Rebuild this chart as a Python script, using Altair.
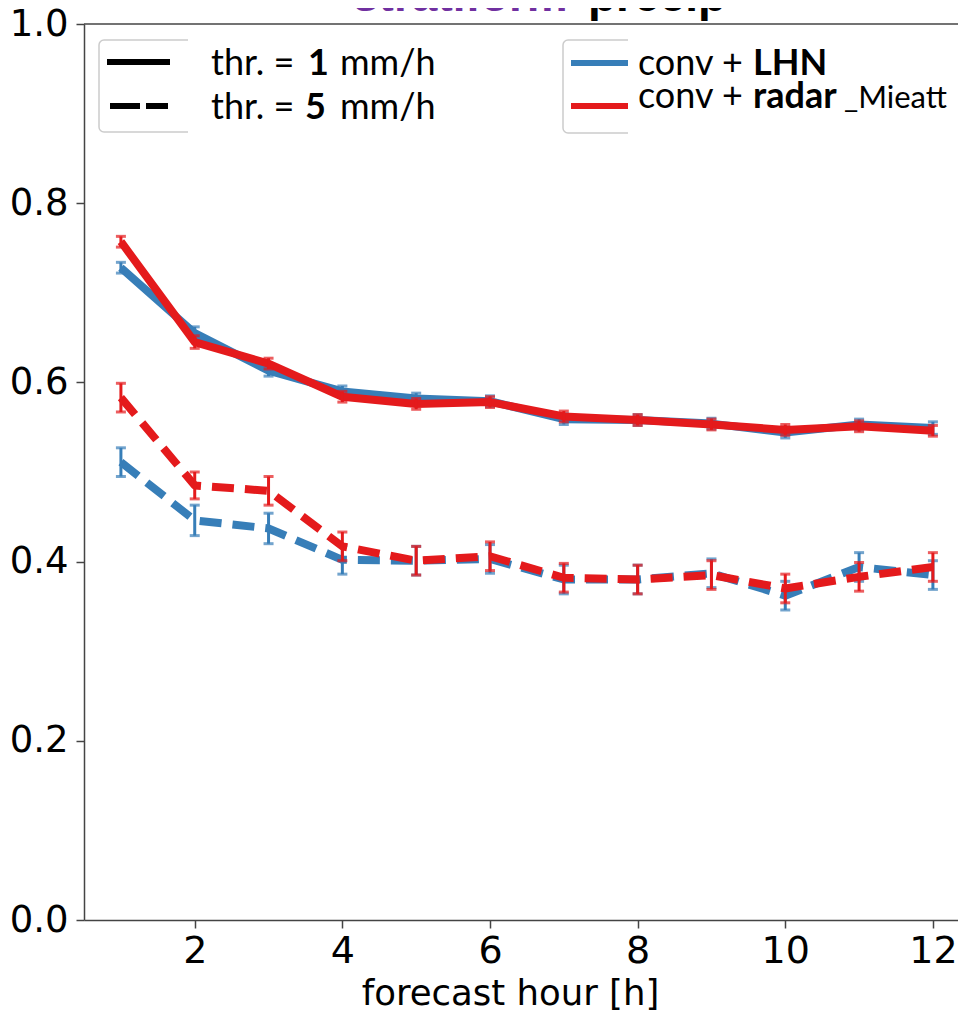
import altair as alt
import pandas as pd

# ---------------- data ----------------
hours = [1, 2, 3, 4, 5, 6, 7, 8, 9, 10, 11, 12]

lhn_1 = [0.728, 0.655, 0.613, 0.590, 0.582, 0.579, 0.559, 0.558, 0.554, 0.544, 0.553, 0.549]
lhn_1_err = [0.006, 0.007, 0.006, 0.006, 0.006, 0.006, 0.006, 0.006, 0.006, 0.006, 0.006, 0.007]
radar_1 = [0.757, 0.645, 0.621, 0.584, 0.576, 0.578, 0.562, 0.558, 0.553, 0.547, 0.551, 0.546]
radar_1_err = [0.006, 0.007, 0.006, 0.006, 0.006, 0.006, 0.006, 0.006, 0.006, 0.006, 0.006, 0.006]

lhn_5 = [0.511, 0.446, 0.437, 0.402, 0.401, 0.403, 0.380, 0.380, 0.387, 0.362, 0.394, 0.385]
lhn_5_err = [0.016, 0.017, 0.017, 0.016, 0.016, 0.016, 0.016, 0.016, 0.016, 0.016, 0.016, 0.016]
radar_5 = [0.583, 0.485, 0.479, 0.417, 0.401, 0.406, 0.382, 0.380, 0.385, 0.370, 0.383, 0.394]
radar_5_err = [0.016, 0.015, 0.016, 0.016, 0.016, 0.016, 0.016, 0.016, 0.016, 0.016, 0.016, 0.016]

x_ticks = [2, 4, 6, 8, 10, 12]
y_ticks = [0.0, 0.2, 0.4, 0.6, 0.8, 1.0]

BLUE = "#377eb8"
RED = "#e41a1c"
PURPLE = "#7030a0"
AXIS = "#444444"

W, H = 874, 896

xscale = alt.Scale(domain=[0.5, 12.34], nice=False, zero=False, padding=0)
yscale = alt.Scale(domain=[0, 1], nice=False, zero=False, padding=0)

x_axis = alt.Axis(values=x_ticks, title="forecast hour [h]", grid=False,
                  labelFont="DejaVu Sans", labelFontSize=38, labelColor="black",
                  labelPadding=4, tickSize=8, tickWidth=1.5, tickColor=AXIS,
                  domainColor=AXIS, domainWidth=1.5,
                  titleFont="DejaVu Sans", titleFontSize=35.5, titleFontWeight="normal",
                  titleColor="black", titleX=426, titleY=84, titleBaseline="alphabetic",
                  titleAlign="center")
y_axis = alt.Axis(values=y_ticks, format=".1f", title=None, grid=False,
                  labelFont="DejaVu Sans", labelFontSize=37, labelColor="black",
                  labelPadding=8, tickSize=8, tickWidth=1.5, tickColor=AXIS,
                  domainColor=AXIS, domainWidth=1.5)


def X(field):
    return alt.X(field, scale=xscale, axis=x_axis)


def Y(field):
    return alt.Y(field, scale=yscale, axis=y_axis)


def series_df(vals, errs):
    return pd.DataFrame({
        "hour": hours,
        "value": vals,
        "lo": [v - e for v, e in zip(vals, errs)],
        "hi": [v + e for v, e in zip(vals, errs)],
    })


def series_layers(vals, errs, color, dashed):
    df = series_df(vals, errs)
    base = alt.Chart(df)
    line_kw = dict(color=color, strokeWidth=8, strokeCap="butt", strokeJoin="round")
    if dashed:
        line_kw["strokeDash"] = [22, 11]
    line = base.mark_line(**line_kw).encode(x=X("hour:Q"), y=Y("value:Q"))
    bar = base.mark_rule(color=color, strokeWidth=3).encode(
        x=X("hour:Q"), y=Y("lo:Q"), y2="hi:Q")
    cap_lo = base.mark_tick(color=color, orient="horizontal", size=10, thickness=3).encode(
        x=X("hour:Q"), y=Y("lo:Q"))
    cap_hi = base.mark_tick(color=color, orient="horizontal", size=10, thickness=3).encode(
        x=X("hour:Q"), y=Y("hi:Q"))
    return [line, bar, cap_lo, cap_hi]


layers = []
layers += series_layers(lhn_1, lhn_1_err, BLUE, False)
layers += series_layers(radar_1, radar_1_err, RED, False)
layers += series_layers(lhn_5, lhn_5_err, BLUE, True)
layers += series_layers(radar_5, radar_5_err, RED, True)

one = alt.Chart(pd.DataFrame({"k": [0]}))

# top frame line
top_line = one.mark_rule(color=AXIS, strokeWidth=1.5).encode(
    x=alt.value(0), x2=alt.value(W), y=alt.value(0))

# title (cut at the top of the page)
title_a = one.mark_text(text="stratiform", font="Liberation Sans", fontSize=46,
                        fontWeight="bold", color=PURPLE, align="left",
                        baseline="alphabetic").encode(x=alt.value(269), y=alt.value(-13))
title_b = one.mark_text(text="precip", font="Liberation Sans", fontSize=46,
                        fontWeight="bold", color="black", align="left",
                        baseline="alphabetic").encode(x=alt.value(504), y=alt.value(-13))

# legend boxes
box_style = dict(fill="white", stroke="#cccccc", strokeWidth=1.5, cornerRadius=5)
box1 = one.mark_rect(**box_style).encode(x=alt.value(15), x2=alt.value(366),
                                          y=alt.value(16), y2=alt.value(108))
cover1 = one.mark_rect(fill="white").encode(x=alt.value(104), x2=alt.value(368),
                                            y=alt.value(13), y2=alt.value(111))
box2 = one.mark_rect(**box_style).encode(x=alt.value(479), x2=alt.value(W + 20),
                                          y=alt.value(16), y2=alt.value(109))
cover2 = one.mark_rect(fill="white").encode(x=alt.value(544), x2=alt.value(W + 20),
                                            y=alt.value(13), y2=alt.value(112))

leg_solid = one.mark_rule(color="black", strokeWidth=6).encode(
    x=alt.value(23), x2=alt.value(86), y=alt.value(38))
leg_dash = one.mark_rule(color="black", strokeWidth=6, strokeDash=[30, 6]).encode(
    x=alt.value(26), x2=alt.value(84), y=alt.value(82))
leg_blue = one.mark_rule(color=BLUE, strokeWidth=6).encode(
    x=alt.value(487), x2=alt.value(544), y=alt.value(39))
leg_red = one.mark_rule(color=RED, strokeWidth=6).encode(
    x=alt.value(487), x2=alt.value(544), y=alt.value(82))

LF = "Lato"
LS = 36


def txt(s, x, y, bold=False, size=LS):
    return one.mark_text(text=s, font=LF, fontSize=size,
                         fontWeight="bold" if bold else "normal", color="black",
                         align="left", baseline="alphabetic").encode(
        x=alt.value(x), y=alt.value(y))


legend_text = [
    txt("thr. =", 127, 51), txt("1", 224, 51, bold=True), txt("mm/h", 256, 51),
    txt("thr. =", 127, 95), txt("5", 221, 95, bold=True), txt("mm/h", 256, 95),
    txt("conv +", 554, 51), txt("LHN", 669, 51, bold=True),
    txt("conv +", 554, 84), txt("radar", 669, 84, bold=True), txt("_Mieatt", 760, 84, size=31),
]

chart = alt.layer(
    *layers, top_line, title_a, title_b,
    box1, cover1, box2, cover2,
    leg_solid, leg_dash, leg_blue, leg_red,
    *legend_text,
).properties(
    width=W, height=H,
    autosize=alt.AutoSizeParams(type="none"),
    padding={"left": 76, "top": 16, "right": 0, "bottom": 91},
    background="white",
).configure_view(stroke=None)

chart.save("out.html", embed_options={"renderer": "svg", "actions": False})
